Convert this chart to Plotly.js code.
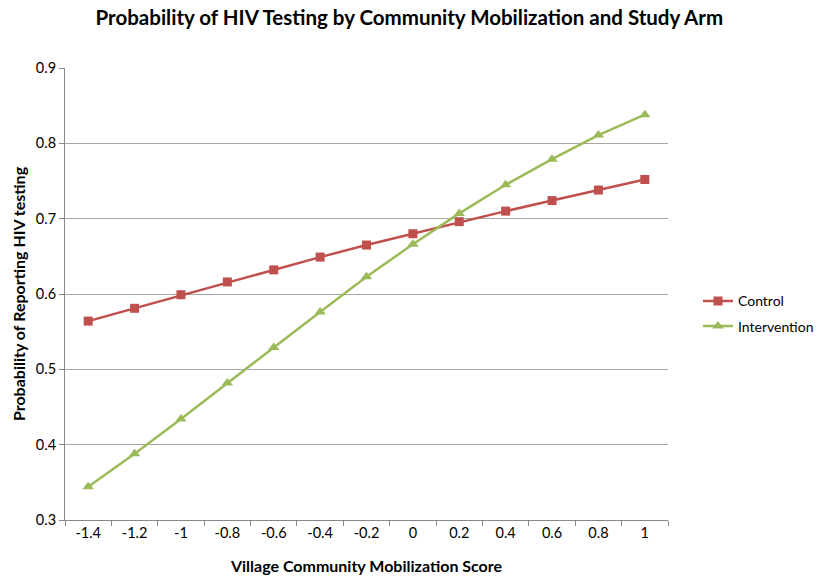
<!DOCTYPE html>
<html>
<head>
<meta charset="utf-8">
<script src="https://cdn.plot.ly/plotly-3.0.1.min.js"></script>
<style>html,body{margin:0;padding:0;background:#fff;}#chart{width:827px;height:579px;}</style>
</head>
<body>
<div id="chart"></div>
<script>
var categories = ["-1.4","-1.2","-1","-0.8","-0.6","-0.4","-0.2","0","0.2","0.4","0.6","0.8","1"];
var controlValues = [0.564,0.581,0.599,0.616,0.632,0.649,0.665,0.680,0.696,0.710,0.724,0.738,0.752];
var interventionValues = [0.344,0.388,0.434,0.482,0.529,0.576,0.623,0.666,0.707,0.745,0.779,0.811,0.838];
var yTicks = [0.3,0.4,0.5,0.6,0.7,0.8,0.9];

var FONT = "Lato, 'Open Sans', sans-serif";
var traces = [
  {x: categories, y: controlValues, name: "Control", type: "scatter", mode: "lines+markers", legendgroup: "c",
   line: {color: "#C0504D", width: 2.5}, marker: {symbol: "square", size: 9, color: "#C0504D"}},
  {x: categories, y: interventionValues, name: "Intervention", type: "scatter", mode: "lines+markers", legendgroup: "i",
   line: {color: "#9BBB59", width: 2.5}, marker: {symbol: "triangle-up", size: 10, color: "#9BBB59"}}
];
var layout = {
  width: 827, height: 579,
  margin: {l: 65, r: 159, t: 68, b: 59, autoexpand: false},
  paper_bgcolor: "#fff", plot_bgcolor: "#fff",
  font: {family: FONT, size: 14, color: "#404040"},
  title: {text: "<b>Probability of HIV Testing by Community Mobilization and Study Arm</b>",
          font: {family: FONT, size: 20.5, color: "#000"}, x: 0.495, xanchor: "center", y: 0.97, yanchor: "middle"},
  xaxis: {type: "category", range: [-0.5, 12.5], tickson: "boundaries", ticks: "outside", ticklen: 5,
          tickcolor: "#888", showline: true, linecolor: "#888", linewidth: 1, showgrid: false, zeroline: false,
          tickfont: {family: FONT, size: 14.5, color: "#000"},
          title: {text: "<b>Village Community Mobilization Score</b>", font: {family: FONT, size: 16, color: "#000"}, standoff: 20}},
  yaxis: {range: [0.3, 0.9], tickvals: yTicks, ticktext: yTicks.map(String), ticks: "outside", ticklen: 5,
          tickcolor: "#888", showline: true, linecolor: "#888", linewidth: 1,
          showgrid: true, gridcolor: "#a6a6a6", gridwidth: 1, zeroline: false,
          tickfont: {family: FONT, size: 14.5, color: "#000"},
          title: {text: "<b>Probability of Reporting HIV testing</b>", font: {family: FONT, size: 16, color: "#000"}, standoff: 6}},
  legend: {xref: "container", yref: "container", x: 0.844, y: 0.458, xanchor: "left", yanchor: "middle",
           font: {family: FONT, size: 14, color: "#000"},
           tracegroupgap: 4, itemwidth: 30, bgcolor: "rgba(0,0,0,0)"},
  showlegend: true
};
Plotly.newPlot("chart", traces, layout, {displayModeBar: false, staticPlot: true});
</script>
</body>
</html>
